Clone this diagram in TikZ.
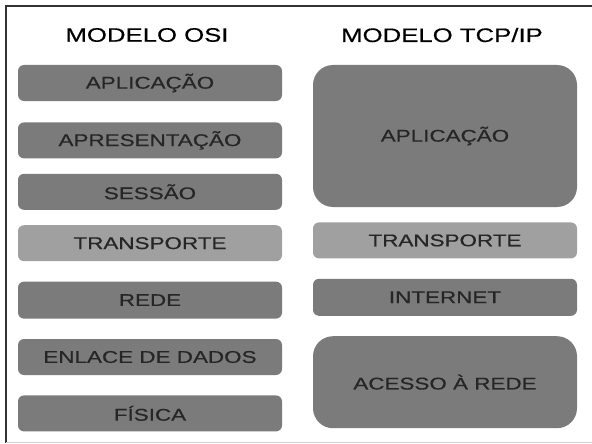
\documentclass[tikz,border=0pt]{standalone}
\usepackage{fontspec}
\usepackage{graphicx}
\setmainfont{Liberation Sans}[FakeBold=0.4]
\usetikzlibrary{positioning}

\definecolor{layerdark}{HTML}{7B7B7B}
\definecolor{layerlight}{HTML}{A0A0A0}
\definecolor{labeltext}{HTML}{262626}

% wide lettering, as in the reference
\newcommand{\widetxt}[1]{\scalebox{1.32}[1]{#1}}

\begin{document}
\begin{tikzpicture}[x=1pt, y=-1pt, node distance={20pt},
    layer/.style = {rectangle, rounded corners=6pt, fill=layerdark, text=labeltext,
        minimum width=264pt, minimum height=36pt, inner sep=0pt,
        font=\fontsize{17}{20}\selectfont},
    layerlt/.style = {layer, fill=layerlight},
    biglayer/.style = {layer, rounded corners=20pt},
    title/.style = {font=\fontsize{19.5}{22}\selectfont, text=black, inner sep=0pt}]
    \useasboundingbox (0,0) rectangle (592,444);

    % Frame
    \draw[line width=1.5pt, black!80] (592,6) -- (6,6) -- (6,443);
    \draw[line width=0.8pt, black!18] (6,442.5) -- (592,442.5);

    % Titles
    \node[title] (osi) at (147,35) {\widetxt{MODELO OSI}};
    \node[title] (tcp) at (442,35) {\widetxt{MODELO TCP/IP}};

    % OSI layers
    \node[layer] (aplO) at (150,83) {\widetxt{APLICAÇÃO}};
    \node[layer] (apr) [below=21pt of aplO] {\widetxt{APRESENTAÇÃO}};
    \node[layer] (ses) [below=15pt of apr] {\widetxt{SESSÃO}};
    \node[layerlt] (traO) [below=15pt of ses] {\widetxt{TRANSPORTE}};
    \node[layer, minimum height=37pt] (red) [below=20pt of traO] {\widetxt{REDE}};
    \node[layer] (enl) [below=20pt of red] {\widetxt{ENLACE DE DADOS}};
    \node[layer] (fis) [below=20pt of enl] {\widetxt{FÍSICA}};

    % TCP/IP layers
    \node[biglayer, minimum height=142pt] (aplT) at (445,136) {\widetxt{APLICAÇÃO}};
    \node[layerlt] (traT) [below=15pt of aplT] {\widetxt{TRANSPORTE}};
    \node[layer, minimum height=37pt] (int) [below=20pt of traT] {\widetxt{INTERNET}};
    \node[biglayer, minimum height=92pt] (ace) [below=20pt of int] {\widetxt{ACESSO À REDE}};
\end{tikzpicture}
\end{document}
